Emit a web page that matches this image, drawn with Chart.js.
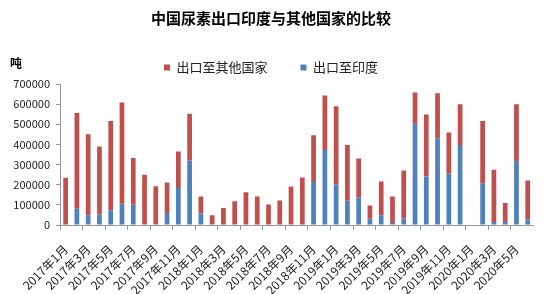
<!DOCTYPE html>
<html>
<head>
<meta charset="utf-8">
<script src="https://cdn.jsdelivr.net/npm/chart.js@4.4.0/dist/chart.umd.min.js"></script>
<style>
html,body{margin:0;padding:0;background:#fff;}
canvas{display:block;}
</style>
</head>
<body>
<canvas id="c" width="550" height="294"></canvas>
<script>
const categories = [];
for (let y = 2017; y <= 2020; y++) {
  for (let m = 1; m <= 12; m++) {
    if (y === 2020 && m > 6) break;
    categories.push(y + '年' + m + '月');
  }
}
const toIndia = [0,81000,48000,52000,73000,106000,101000,0,0,60000,184000,320000,
  57000,0,0,0,0,0,0,0,0,0,213000,372000,
  202000,120000,135000,31000,48000,10000,32000,503000,241000,431000,254000,397000,
  0,205000,15000,15000,318000,28000];
const toOthers = [234000,475000,402000,338000,443000,502000,232000,249000,192000,151000,181000,232000,
  84000,48000,84000,118000,162000,142000,102000,122000,191000,236000,233000,271000,
  388000,277000,195000,66000,168000,132000,238000,155000,307000,223000,205000,203000,
  0,311000,259000,94000,282000,193000];
const yTicks = [0,100000,200000,300000,400000,500000,600000,700000];

const FONT = "'Noto Sans CJK SC', 'Noto Sans', sans-serif";

const unitPlugin = {
  id: 'unit',
  afterDraw(chart) {
    const ctx = chart.ctx;
    ctx.save();
    ctx.font = "bold 12px " + FONT;
    ctx.fillStyle = '#000';
    ctx.textAlign = 'center';
    ctx.textBaseline = 'middle';
    ctx.fillText('吨', 16, 63);
    ctx.restore();
  }
};

new Chart(document.getElementById('c'), {
  type: 'bar',
  data: {
    labels: categories,
    datasets: [
      { label: '出口至印度', data: toIndia, backgroundColor: '#4F81BD', barPercentage: 1, categoryPercentage: 0.42 },
      { label: '出口至其他国家', data: toOthers, backgroundColor: '#C0504D', barPercentage: 1, categoryPercentage: 0.42 }
    ]
  },
  options: {
    responsive: false,
    devicePixelRatio: 1,
    animation: false,
    layout: { padding: { left: 0, right: 8, top: 0, bottom: 0 } },
    plugins: {
      title: {
        display: true,
        text: '中国尿素出口印度与其他国家的比较',
        color: '#000',
        font: { family: FONT, size: 15, weight: 'bold' },
        padding: { top: 9, bottom: 1 }
      },
      legend: {
        display: true,
        position: 'top',
        reverse: true,
        labels: {
          color: '#222',
          font: { family: FONT, size: 13 },
          boxWidth: 6,
          boxHeight: 6,
          padding: 33
        }
      },
      tooltip: { enabled: false }
    },
    scales: {
      x: {
        stacked: true,
        grid: {
          display: true,
          drawOnChartArea: false,
          drawTicks: true,
          tickLength: 5,
          offset: true,
          color: (c) => (c.index % 2 === 0 ? '#999' : 'rgba(0,0,0,0)')
        },
        border: { display: true, color: '#999' },
        ticks: {
          autoSkip: false,
          minRotation: 45,
          maxRotation: 45,
          padding: 12,
          color: '#222',
          font: { family: FONT, size: 12 },
          callback: function (v, i) { return i % 2 === 0 ? categories[i] : ''; }
        },
        afterFit(s) { s.height = 69; }
      },
      y: {
        stacked: true,
        min: 0,
        max: 700000,
        grid: { display: true, drawOnChartArea: false, drawTicks: true, tickLength: 4, color: '#999' },
        border: { display: true, color: '#999' },
        ticks: {
          stepSize: 100000,
          padding: 6,
          color: '#222',
          font: { family: FONT, size: 11 },
          callback: (v) => (yTicks.includes(v) ? String(v) : '')
        },
        afterFit(s) { s.width = 60; }
      }
    }
  },
  plugins: [unitPlugin]
});
</script>
</body>
</html>
